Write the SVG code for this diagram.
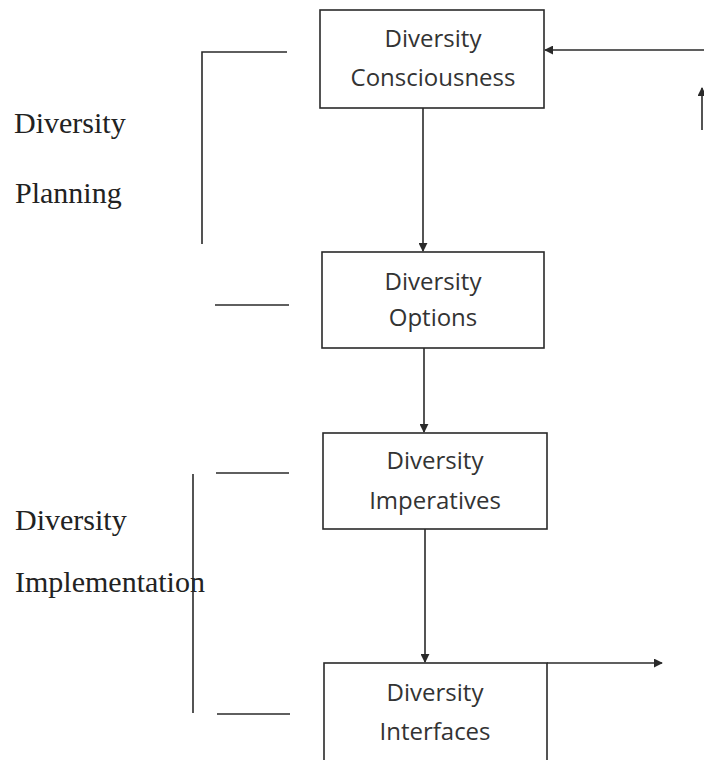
<svg xmlns="http://www.w3.org/2000/svg" width="704" height="760" viewBox="0 0 704 760">
<style>
.box{fill:#fff;stroke:#2a2a2a;stroke-width:1.6}
.bt{font-family:"Open Sans","Noto Sans",sans-serif;font-size:24px;fill:#333;text-anchor:middle}
.st{font-family:"Liberation Serif","DejaVu Serif",serif;font-size:30px;fill:#222}
.ln{stroke:#2a2a2a;stroke-width:1.6;fill:none}
</style>
<defs>
<marker id="ah" viewBox="0 0 10 10" refX="9" refY="5" markerWidth="9" markerHeight="9" markerUnits="userSpaceOnUse" orient="auto">
<path d="M0,0 L10,5 L0,10 Z" fill="#2a2a2a"/>
</marker>
</defs>
<rect x="0" y="0" width="704" height="760" fill="#fff"/>
<g id="label-planning">
<text class="st" x="14" y="133">Diversity</text>
<text class="st" x="15" y="203">Planning</text>
</g>
<g id="label-implementation">
<text class="st" x="15" y="530">Diversity</text>
<text class="st" x="15" y="592">Implementation</text>
</g>
<g id="brackets">
<polyline class="ln" points="287,52 202,52 202,244"/>
<line class="ln" x1="215" y1="305" x2="289" y2="305"/>
<line class="ln" x1="216" y1="473" x2="289" y2="473"/>
<line class="ln" x1="193" y1="474" x2="193" y2="713"/>
<line class="ln" x1="217" y1="714" x2="290" y2="714"/>
</g>
<g id="connectors">
<line class="ln" x1="423" y1="108" x2="423" y2="251" marker-end="url(#ah)"/>
<line class="ln" x1="424" y1="348" x2="424" y2="432" marker-end="url(#ah)"/>
<line class="ln" x1="425" y1="529" x2="425" y2="662" marker-end="url(#ah)"/>
<line class="ln" x1="704" y1="50" x2="545" y2="50" marker-end="url(#ah)"/>
<line class="ln" x1="702" y1="130" x2="702" y2="88" marker-end="url(#ah)"/>
<line class="ln" x1="547" y1="663" x2="662" y2="663" marker-end="url(#ah)"/>
</g>
<g id="node-consciousness">
<rect class="box" x="320" y="10" width="224" height="98"/>
<text class="bt" x="433" y="47">Diversity</text>
<text class="bt" x="433" y="86">Consciousness</text>
</g>
<g id="node-options">
<rect class="box" x="322" y="252" width="222" height="96"/>
<text class="bt" x="433" y="290">Diversity</text>
<text class="bt" x="433" y="326">Options</text>
</g>
<g id="node-imperatives">
<rect class="box" x="323" y="433" width="224" height="96"/>
<text class="bt" x="435" y="469">Diversity</text>
<text class="bt" x="435" y="509">Imperatives</text>
</g>
<g id="node-interfaces">
<rect class="box" x="324" y="663" width="223" height="110"/>
<text class="bt" x="435" y="701">Diversity</text>
<text class="bt" x="435" y="740">Interfaces</text>
</g>
</svg>
